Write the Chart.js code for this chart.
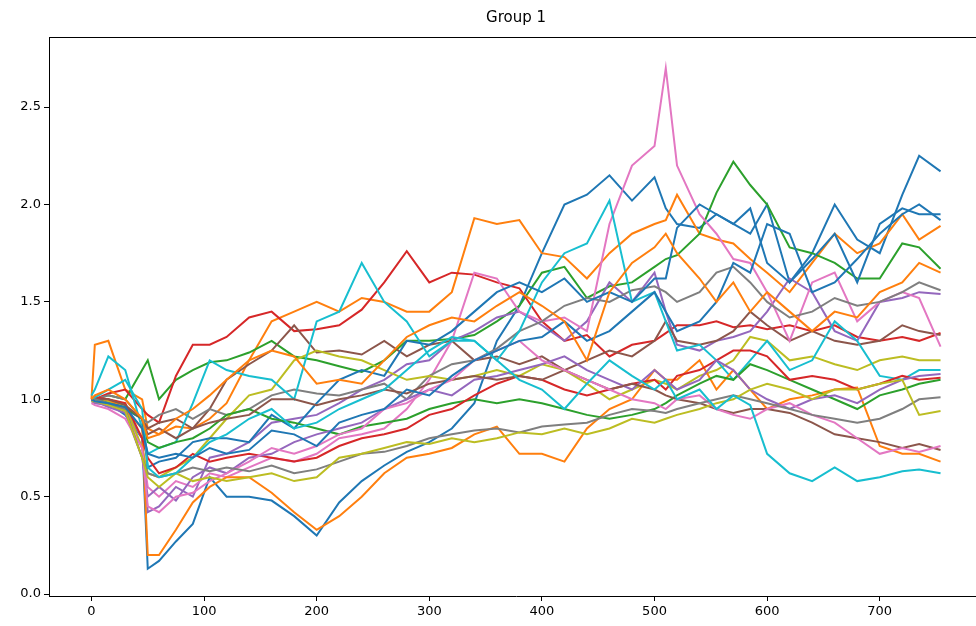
<!DOCTYPE html>
<html>
<head>
<meta charset="utf-8">
<script src="https://cdn.jsdelivr.net/npm/chart.js@4.4.1/dist/chart.umd.min.js"></script>
<style>
  html, body { margin: 0; padding: 0; background: #fff; overflow: hidden; }
  #wrap { width: 976px; height: 626px; overflow: hidden; }
</style>
</head>
<body>
<div id="wrap"><canvas id="grafico" width="1000" height="626"></canvas></div>
<script>
// sample positions (day index) shared by every series
var xs = [0,3,15,30,45, 50,60,75,90,105, 120,140,160,180,200, 220,240,260,280,300,
          320,340,360,380,400, 420,440,460,480,500, 510,520,540,555,570, 585,600,620,640,660,
          680,700,720,735,754];

var xTicks = [0,100,200,300,400,500,600,700];
var yTicks = [0,0.5,1,1.5,2,2.5];

// values
var b1 = [1.00,1.00,0.98,0.92,0.80, 0.13,0.17,0.27,0.36,0.60, 0.50,0.50,0.48,0.40,0.30, 0.47,0.58,0.66,0.73,0.78,
          0.85,0.98,1.30,1.48,1.75, 2.00,2.05,2.15,2.02,2.14, 1.98,1.90,1.88,1.95,1.90, 1.85,2.00,1.60,1.75,2.00,
          1.82,1.75,2.05,2.25,2.17];
var o1 = [1.00,1.28,1.30,1.05,1.00, 0.85,0.82,0.86,0.85,0.90, 0.98,1.20,1.40,1.45,1.50, 1.45,1.52,1.50,1.45,1.45,
          1.55,1.93,1.90,1.92,1.75, 1.73,1.62,1.75,1.85,1.90, 1.92,2.05,1.85,1.82,1.80, 1.72,1.65,1.55,1.70,1.85,
          1.75,1.80,1.95,1.82,1.89];
var g1 = [1.00,1.00,1.02,1.00,1.15, 1.20,1.00,1.10,1.15,1.19, 1.20,1.24,1.30,1.22,1.20, 1.17,1.14,1.20,1.30,1.30,
          1.31,1.33,1.40,1.48,1.65, 1.68,1.52,1.58,1.60,1.68, 1.72,1.74,1.85,2.06,2.22, 2.10,2.00,1.78,1.75,1.70,
          1.62,1.62,1.80,1.78,1.67];
var r1 = [1.00,1.00,1.03,1.05,0.95, 0.92,0.88,1.12,1.28,1.28, 1.32,1.42,1.45,1.35,1.36, 1.38,1.46,1.60,1.76,1.60,
          1.65,1.64,1.60,1.57,1.40, 1.30,1.33,1.22,1.28,1.30, 1.34,1.38,1.38,1.40,1.37, 1.38,1.36,1.38,1.35,1.38,
          1.32,1.30,1.32,1.30,1.34];
var pu1 = [0.99,0.98,0.97,0.95,0.80, 0.42,0.45,0.55,0.50,0.70, 0.72,0.78,0.88,0.90,0.92, 0.98,1.05,1.10,1.18,1.20,
           1.30,1.35,1.42,1.45,1.38, 1.30,1.40,1.60,1.50,1.65, 1.45,1.28,1.25,1.30,1.32, 1.35,1.45,1.62,1.55,1.35,
           1.30,1.50,1.52,1.55,1.54];
var br1 = [1.00,1.00,0.98,0.95,0.90, 0.85,0.88,0.90,0.85,0.95, 1.10,1.18,1.25,1.38,1.24, 1.25,1.23,1.30,1.22,1.28,
           1.30,1.20,1.22,1.18,1.22, 1.15,1.20,1.25,1.22,1.30, 1.40,1.30,1.28,1.30,1.35, 1.45,1.38,1.30,1.35,1.30,
           1.28,1.30,1.38,1.35,1.33];
var p1 = [1.00,0.99,0.97,0.95,0.75, 0.55,0.50,0.58,0.55,0.62, 0.60,0.65,0.70,0.68,0.72, 0.80,0.82,0.85,0.95,1.10,
          1.30,1.65,1.62,1.45,1.40, 1.42,1.35,1.90,2.20,2.30, 2.70,2.20,1.95,1.85,1.72, 1.70,1.55,1.30,1.60,1.65,
          1.40,1.50,1.55,1.52,1.27];
var gy1 = [1.00,1.00,1.02,1.00,0.90, 0.88,0.92,0.95,0.90,0.95, 0.92,0.95,1.02,1.05,1.03, 1.02,1.05,1.08,1.00,1.12,
           1.18,1.20,1.26,1.35,1.40, 1.48,1.52,1.50,1.56,1.58, 1.55,1.50,1.55,1.65,1.68, 1.60,1.50,1.42,1.45,1.52,
           1.48,1.50,1.55,1.60,1.56];
var ol1 = [1.00,1.00,0.99,0.97,0.75, 0.62,0.60,0.65,0.70,0.80, 0.90,1.02,1.05,1.20,1.25, 1.22,1.20,1.15,1.10,1.12,
           1.10,1.12,1.15,1.12,1.18, 1.15,1.08,1.00,1.05,1.10, 1.08,1.05,1.12,1.15,1.20, 1.32,1.30,1.20,1.22,1.18,
           1.15,1.20,1.22,1.20,1.20];
var c1 = [1.02,1.05,1.22,1.15,0.85, 0.72,0.75,0.78,0.98,1.20, 1.15,1.12,1.10,1.00,1.40, 1.45,1.70,1.50,1.40,1.22,
          1.30,1.30,1.20,1.35,1.60, 1.75,1.80,2.02,1.50,1.55, 1.40,1.25,1.28,1.20,1.10, 1.20,1.30,1.15,1.20,1.40,
          1.30,1.12,1.10,1.15,1.15];
var b2 = [1.00,1.01,0.97,0.95,0.90, 0.65,0.68,0.70,0.78,0.80, 0.80,0.78,0.92,0.85,0.98, 1.10,1.15,1.12,1.30,1.28,
          1.35,1.45,1.55,1.60,1.55, 1.62,1.50,1.55,1.50,1.62, 1.62,1.88,2.00,1.95,1.90, 1.98,1.70,1.60,1.72,1.85,
          1.60,1.90,1.98,1.95,1.95];
var o2 = [1.00,1.00,1.00,0.95,0.85, 0.20,0.20,0.33,0.47,0.55, 0.60,0.60,0.52,0.42,0.33, 0.40,0.50,0.62,0.70,0.72,
          0.75,0.82,0.86,0.72,0.72, 0.68,0.85,0.95,1.00,1.15, 1.10,1.10,1.20,1.05,1.15, 1.05,0.95,1.00,1.02,1.05,
          1.06,0.76,0.72,0.72,0.68];
var g2 = [1.00,1.00,0.98,0.96,0.90, 0.78,0.75,0.78,0.80,0.85, 0.92,0.95,0.90,0.88,0.85, 0.82,0.86,0.88,0.90,0.95,
          0.98,1.00,0.98,1.00,0.98, 0.95,0.92,0.90,0.92,0.95, 0.98,1.02,1.08,1.12,1.10, 1.18,1.15,1.10,1.05,1.00,
          0.95,1.02,1.05,1.08,1.10];
var r2 = [1.00,1.01,1.00,0.98,0.80, 0.70,0.62,0.65,0.72,0.68, 0.70,0.72,0.70,0.68,0.70, 0.76,0.80,0.82,0.85,0.92,
          0.95,1.02,1.08,1.12,1.10, 1.05,1.02,1.05,1.08,1.10, 1.05,1.12,1.15,1.20,1.25, 1.25,1.22,1.10,1.12,1.10,
          1.05,1.08,1.12,1.10,1.11];
var pu2 = [1.00,0.99,0.96,0.93,0.70, 0.50,0.55,0.48,0.60,0.65, 0.62,0.70,0.72,0.78,0.82, 0.85,0.88,0.95,1.00,1.05,
           1.02,1.10,1.12,1.15,1.18, 1.22,1.15,1.10,1.05,1.15, 1.10,1.05,1.10,1.20,1.15, 1.05,1.00,0.95,1.00,1.02,
           0.98,1.05,1.10,1.12,1.13];
var br2 = [1.00,1.00,1.00,0.97,0.90, 0.82,0.85,0.80,0.85,0.88, 0.90,0.92,1.00,1.00,0.97, 1.00,1.02,1.05,1.03,1.08,
           1.10,1.12,1.10,1.12,1.10, 1.15,1.10,1.05,1.08,1.05, 1.02,1.00,0.98,0.95,0.93, 0.95,0.95,0.93,0.88,0.82,
           0.80,0.78,0.75,0.77,0.74];
var p2 = [0.98,0.97,0.95,0.90,0.75, 0.45,0.42,0.50,0.52,0.58, 0.62,0.68,0.75,0.72,0.76, 0.82,0.85,0.95,0.98,1.05,
          1.10,1.20,1.25,1.30,1.20, 1.15,1.10,1.05,1.00,0.98, 0.95,1.00,1.02,0.95,0.92, 0.90,0.95,0.98,0.92,0.88,
          0.80,0.72,0.75,0.73,0.76];
var gy2 = [1.00,1.00,0.98,0.95,0.70, 0.62,0.60,0.62,0.65,0.63, 0.65,0.63,0.66,0.62,0.64, 0.68,0.72,0.73,0.76,0.80,
           0.82,0.84,0.85,0.83,0.86, 0.87,0.88,0.92,0.95,0.94, 0.93,0.95,0.98,1.00,1.02, 1.00,0.98,0.95,0.92,0.90,
           0.88,0.90,0.95,1.00,1.01];
var ol2 = [0.99,0.99,0.97,0.94,0.70, 0.60,0.55,0.62,0.58,0.60, 0.58,0.60,0.62,0.58,0.60, 0.70,0.72,0.75,0.78,0.77,
           0.80,0.78,0.80,0.83,0.82, 0.85,0.82,0.85,0.90,0.88, 0.90,0.92,0.95,0.98,1.00, 1.05,1.08,1.05,1.00,1.05,
           1.05,1.08,1.10,0.92,0.94];
var c2 = [1.00,1.01,1.05,1.10,0.95, 0.65,0.60,0.62,0.70,0.78, 0.82,0.90,0.95,0.85,0.88, 0.95,1.00,1.05,1.15,1.25,
          1.32,1.30,1.20,1.10,1.05, 0.95,1.08,1.20,1.12,1.05, 1.10,1.00,1.05,0.95,1.02, 0.97,0.72,0.62,0.58,0.65,
          0.58,0.60,0.63,0.64,0.62];
var b3 = [1.00,0.99,0.98,0.96,0.85, 0.72,0.70,0.72,0.70,0.75, 0.72,0.74,0.84,0.82,0.76, 0.88,0.92,0.95,1.05,1.02,
          1.12,1.20,1.25,1.30,1.32, 1.40,1.30,1.35,1.45,1.55, 1.45,1.35,1.40,1.50,1.70, 1.65,1.90,1.85,1.55,1.60,
          1.72,1.85,1.95,2.00,1.92];
var o3 = [1.00,1.02,1.05,1.00,0.90, 0.80,0.82,0.90,0.95,1.02, 1.10,1.20,1.25,1.22,1.08, 1.10,1.08,1.20,1.32,1.38,
          1.42,1.40,1.48,1.55,1.48, 1.40,1.20,1.55,1.70,1.78, 1.85,1.75,1.62,1.50,1.60, 1.45,1.55,1.45,1.35,1.45,
          1.42,1.55,1.60,1.70,1.65];

var series = [b1, o1, g1, r1, pu1, br1, p1, gy1, ol1, c1, b2, o2, g2, r2, pu2, br2, p2, gy2, ol2, c2, b3, o3];
var colores = ['#1f77b4','#ff7f0e','#2ca02c','#d62728','#9467bd','#8c564b','#e377c2','#7f7f7f','#bcbd22','#17becf'];

var titulo = 'Group 1';
var fuente = '"DejaVu Sans", sans-serif';

// top spine + title, like the matplotlib frame
var marco = {
  id: 'marco',
  afterDraw: function(chart) {
    var ctx = chart.ctx, a = chart.chartArea;
    ctx.save();
    ctx.strokeStyle = '#000';
    ctx.lineWidth = 1;
    ctx.beginPath();
    ctx.moveTo(a.left, a.top + 0.5);
    ctx.lineTo(a.right, a.top + 0.5);
    ctx.stroke();
    ctx.fillStyle = '#000';
    ctx.font = '15px ' + fuente;
    ctx.textAlign = 'center';
    ctx.textBaseline = 'middle';
    ctx.fillText(titulo, (a.left + a.right) / 2, 18);
    ctx.restore();
  }
};

var datasets = [];
for (var i = 0; i < series.length; i++) {
  var puntos = [];
  for (var j = 0; j < xs.length; j++) puntos.push({x: xs[j], y: series[i][j]});
  datasets.push({
    data: puntos,
    borderColor: colores[i % colores.length],
    borderWidth: 2,
    pointRadius: 0,
    tension: 0,
    fill: false,
    order: series.length - i
  });
}

Chart.defaults.font.family = fuente;
Chart.defaults.color = '#000';

new Chart(document.getElementById('grafico'), {
  type: 'line',
  data: { datasets: datasets },
  plugins: [marco],
  options: {
    responsive: false,
    animation: false,
    devicePixelRatio: 1,
    layout: { padding: { left: 0, right: 17, top: 37, bottom: 0 } },
    plugins: { legend: { display: false }, tooltip: { enabled: false }, title: { display: false } },
    scales: {
      x: {
        type: 'linear',
        min: -37.7,
        max: 791.7,
        afterBuildTicks: function(s) { s.ticks = xTicks.map(function(v){ return {value: v}; }); },
        afterFit: function(s) { s.height = 30; },
        border: { color: '#000', width: 1 },
        grid: { drawOnChartArea: false, color: '#000', tickLength: 5 },
        ticks: { autoSkip: false, maxRotation: 0, padding: 3, font: { size: 13 }, color: '#000' }
      },
      y: {
        type: 'linear',
        min: -0.01,
        max: 2.86,
        afterBuildTicks: function(s) { s.ticks = yTicks.map(function(v){ return {value: v}; }); },
        afterFit: function(s) { s.width = 49; },
        border: { color: '#000', width: 1 },
        grid: { drawOnChartArea: false, color: '#000', tickLength: 5 },
        ticks: { padding: 3, font: { size: 13 }, color: '#000',
                 callback: function(v) { return Number(v).toFixed(1); } }
      }
    }
  }
});
</script>
</body>
</html>
